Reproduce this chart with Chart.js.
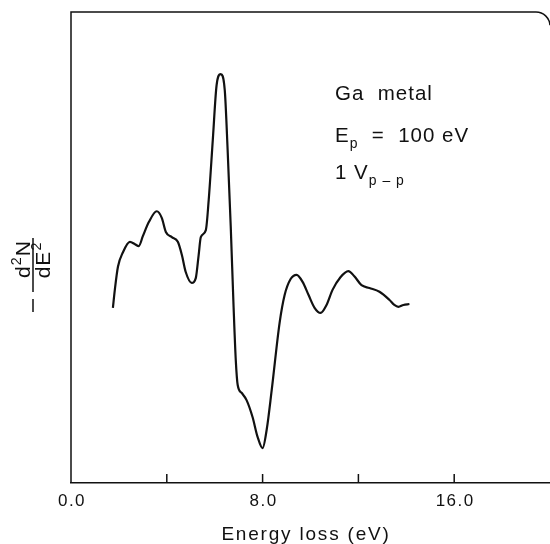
<!DOCTYPE html>
<html><head><meta charset="utf-8">
<script src="https://cdn.jsdelivr.net/npm/chart.js@4.4.1/dist/chart.umd.min.js"></script>
<style>html,body{margin:0;padding:0;background:#fff;}canvas{display:block;}</style>
</head><body>
<canvas id="c" width="550" height="544"></canvas>
<script>
// ---- data ----
const energy = [1.75,1.83,1.96,2.17,2.46,2.67,2.83,3.0,3.25,3.58,3.79,3.96,4.21,4.46,4.63,4.79,5.04,5.21,5.33,5.42,5.63,5.75,5.92,6.08,6.25,6.42,6.54,6.67,6.79,6.88,6.96,7.13,7.33,7.58,7.79,8.0,8.17,8.38,8.71,8.92,9.17,9.42,9.67,9.92,10.17,10.42,10.67,10.92,11.25,11.58,11.83,12.13,12.46,12.88,13.29,13.5,13.67,13.88,14.13];
const signal = [37.2,41.0,45.9,49.0,51.2,50.7,50.3,52.4,55.4,57.7,56.3,53.3,52.2,51.2,48.4,44.8,42.5,43.5,48.4,52.2,53.7,60.1,72.8,84.5,86.8,83.4,70.7,54.4,37.2,26.1,20.8,19.1,17.6,14.0,9.8,7.4,11.3,19.7,34.0,39.9,43.3,44.2,42.7,39.9,37.2,36.1,37.8,41.0,43.7,45.0,43.9,42.0,41.4,40.6,38.9,37.8,37.4,37.8,38.0];
const xTickValues = [0, 4, 8, 12, 16];
const xTickLabels = ['0.0', '', '8.0', '', '16.0'];
const xTitle = 'Energy loss (eV)';
const yNumerator = [{t:'d'},{t:'2',sup:true},{t:'N'}];
const yDenominator = [{t:'dE'},{t:'2',sup:true}];
const annotation = [
  [{t:'Ga  metal'}],
  [{t:'E'},{t:'p',sub:true},{t:'  =  100 eV'}],
  [{t:'1 V'},{t:'p \u2013 p',sub:true}]
];

const FONT = '"Liberation Sans", Arial, Helvetica, sans-serif';
const INK = '#111';

function runsWidth(ctx, runs, size){
  let w = 0;
  for (const r of runs){
    const s = (r.sub||r.sup) ? size*0.68 : size;
    ctx.font = s + 'px ' + FONT;
    w += ctx.measureText(r.t).width;
  }
  return w;
}
function drawRuns(ctx, runs, x, y, size){
  for (const r of runs){
    const s = (r.sub||r.sup) ? size*0.68 : size;
    const dy = r.sub ? size*0.3 : (r.sup ? -size*0.42 : 0);
    ctx.font = s + 'px ' + FONT;
    ctx.fillText(r.t, x, y + dy);
    x += ctx.measureText(r.t).width;
  }
  return x;
}

const decor = {
  id: 'decor',
  afterDraw(chart){
    const ctx = chart.ctx, a = chart.chartArea, xs = chart.scales.x;
    ctx.save();
    ctx.strokeStyle = INK; ctx.fillStyle = INK;
    ctx.lineWidth = 1.5;
    // frame: left side, top, rounded top-right corner
    const r = 14;
    ctx.beginPath();
    ctx.moveTo(a.left, a.bottom);
    ctx.lineTo(a.left, a.top);
    ctx.lineTo(a.right - r, a.top);
    ctx.arc(a.right - r, a.top + r, r, -Math.PI/2, -0.05);
    ctx.stroke();
    // inward tick marks
    ctx.beginPath();
    xTickValues.forEach(v => {
      if (v === xs.min) return;
      const px = xs.getPixelForValue(v);
      ctx.moveTo(px, a.bottom); ctx.lineTo(px, a.bottom - 9);
    });
    ctx.stroke();
    // tick labels
    ctx.textBaseline = 'alphabetic';
    ctx.textAlign = 'center';
    ctx.letterSpacing = '1.5px';
    ctx.font = '17px ' + FONT;
    xTickValues.forEach((v, i) => {
      if (!xTickLabels[i]) return;
      ctx.fillText(xTickLabels[i], xs.getPixelForValue(v) + 1, a.bottom + 23);
    });
    // x title
    ctx.font = '19px ' + FONT;
    ctx.letterSpacing = '1.8px';
    ctx.fillText(xTitle, 306, a.bottom + 57);
    // annotation
    ctx.textAlign = 'left';
    ctx.letterSpacing = '1px';
    const baselines = [100, 142, 179];
    annotation.forEach((runs, i) => drawRuns(ctx, runs, 335, baselines[i], 20.5));
    // y label: - d2N / dE2 rotated
    ctx.letterSpacing = '1px';
    ctx.translate(33, 265);
    ctx.rotate(-Math.PI/2);
    const sz = 21;
    const wn = runsWidth(ctx, yNumerator, sz);
    drawRuns(ctx, yNumerator, 6 - wn/2, -3, sz);
    const wd = runsWidth(ctx, yDenominator, sz);
    drawRuns(ctx, yDenominator, 5 - wd/2, 17, sz);
    ctx.lineWidth = 1.5;
    ctx.beginPath();
    ctx.moveTo(-27, 0); ctx.lineTo(27, 0);
    ctx.moveTo(-47, 0); ctx.lineTo(-34, 0);
    ctx.stroke();
    ctx.restore();
  }
};

new Chart(document.getElementById('c'), {
  type: 'line',
  data: {
    datasets: [{
      data: energy.map((e, i) => ({x: e, y: signal[i]})),
      borderColor: INK,
      borderWidth: 2.2,
      pointRadius: 0,
      fill: false,
      cubicInterpolationMode: 'monotone'
    }]
  },
  options: {
    responsive: false,
    animation: false,
    devicePixelRatio: 1,
    layout: { padding: { left: 71, top: 12, right: 0, bottom: 0 } },
    plugins: { legend: { display: false }, tooltip: { enabled: false } },
    scales: {
      x: {
        type: 'linear', min: 0, max: 20,
        ticks: { display: false, stepSize: 4 },
        grid: { display: false, drawTicks: false },
        border: { display: true, color: INK, width: 1.5 },
        afterFit(scale){ scale.height = 61; }
      },
      y: {
        type: 'linear', min: 0, max: 100, display: false
      }
    }
  },
  plugins: [decor]
});
</script>
</body></html>
